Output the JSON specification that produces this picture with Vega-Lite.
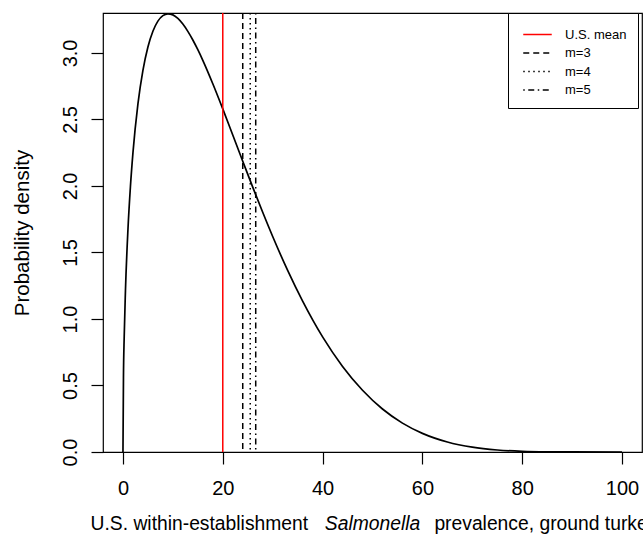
{
  "$schema": "https://vega.github.io/schema/vega-lite/v6.json",
  "width": 539,
  "height": 439,
  "autosize": {"type": "none"},
  "padding": {"left": 103, "top": 13, "right": 1, "bottom": 89},
  "background": "white",
  "config": {
    "font": "Liberation Sans",
    "view": {"stroke": "black", "strokeWidth": 1.2},
    "axis": {
      "grid": false, "domain": false,
      "tickColor": "black", "tickSize": 12, "tickWidth": 1.2,
      "labelColor": "black", "labelFontSize": 20, "labelFont": "Liberation Sans",
      "titleFont": "Liberation Sans", "titleFontSize": 20.5, "titleColor": "black", "titleFontWeight": "normal"
    }
  },
  "datasets": {
    "curve": [
      {"x": 0, "d": 0},
      {"x": 0.1, "d": 0.554},
      {"x": 0.25, "d": 0.869},
      {"x": 0.5, "d": 1.213},
      {"x": 1, "d": 1.673},
      {"x": 1.5, "d": 1.998},
      {"x": 2, "d": 2.249},
      {"x": 3, "d": 2.617},
      {"x": 4, "d": 2.869},
      {"x": 5, "d": 3.045},
      {"x": 6, "d": 3.163},
      {"x": 7, "d": 3.239},
      {"x": 8, "d": 3.280},
      {"x": 9, "d": 3.294},
      {"x": 10, "d": 3.286},
      {"x": 11, "d": 3.259},
      {"x": 12, "d": 3.217},
      {"x": 13, "d": 3.162},
      {"x": 14, "d": 3.097},
      {"x": 15, "d": 3.024},
      {"x": 16, "d": 2.944},
      {"x": 18, "d": 2.768},
      {"x": 20, "d": 2.579},
      {"x": 22, "d": 2.383},
      {"x": 24, "d": 2.186},
      {"x": 26, "d": 1.991},
      {"x": 28, "d": 1.802},
      {"x": 30, "d": 1.620},
      {"x": 33, "d": 1.365},
      {"x": 36, "d": 1.134},
      {"x": 40, "d": 0.865},
      {"x": 44, "d": 0.643},
      {"x": 48, "d": 0.464},
      {"x": 52, "d": 0.323},
      {"x": 56, "d": 0.217},
      {"x": 60, "d": 0.140},
      {"x": 65, "d": 0.075},
      {"x": 70, "d": 0.036},
      {"x": 75, "d": 0.015},
      {"x": 80, "d": 0.005},
      {"x": 85, "d": 0.0012},
      {"x": 90, "d": 0.0002},
      {"x": 100, "d": 0}
    ],
    "lines": [
      {"series": "U.S. mean", "x": 20},
      {"series": "m=3", "x": 24.0},
      {"series": "m=4", "x": 25.5},
      {"series": "m=5", "x": 26.6}
    ]
  },
  "layer": [
    {
      "data": {"name": "curve"},
      "mark": {"type": "line", "color": "black", "strokeWidth": 1.7, "interpolate": "monotone"},
      "encoding": {
        "x": {
          "field": "x", "type": "quantitative",
          "scale": {"domain": [-4, 104], "nice": false, "zero": false},
          "axis": {"title": null, "values": [0, 20, 40, 60, 80, 100], "labelPadding": 14}
        },
        "y": {
          "field": "d", "type": "quantitative",
          "scale": {"domain": [0, 3.3], "nice": false},
          "axis": {
            "title": "Probability density",
            "values": [0, 0.5, 1, 1.5, 2, 2.5, 3], "format": ".1f",
            "labelAngle": 270, "labelAlign": "center", "labelBaseline": "bottom",
            "labelPadding": 11, "titlePadding": 28
          }
        }
      }
    },
    {
      "data": {"name": "lines"},
      "mark": {"type": "rule", "strokeWidth": 1.5},
      "encoding": {
        "x": {"field": "x", "type": "quantitative"},
        "color": {
          "field": "series", "type": "nominal", "title": null,
          "scale": {"domain": ["U.S. mean", "m=3", "m=4", "m=5"], "range": ["#ff0000", "black", "black", "black"]},
          "legend": {
            "orient": "none", "legendX": 405, "legendY": 0, "padding": 11,
            "strokeColor": "black", "fillColor": "white",
            "symbolType": "M-1.5,0H1.5", "symbolSize": 361, "symbolStrokeWidth": 1.5,
            "symbolOffset": 8, "labelOffset": 17, "labelFontSize": 13, "labelColor": "black",
            "rowPadding": 0.5,
            "labelExpr": "datum.label + '\u00a0\u00a0\u00a0\u00a0'"
          }
        },
        "strokeDash": {
          "field": "series", "type": "nominal", "title": null,
          "scale": {"domain": ["U.S. mean", "m=3", "m=4", "m=5"], "range": [[1, 0], [6, 4], [1.5, 3.5], [1.5, 3.5, 6, 3.5]]},
          "legend": {
            "orient": "none", "legendX": 405, "legendY": 0, "padding": 11,
            "strokeColor": "black", "fillColor": "white",
            "symbolType": "M-1.5,0H1.5", "symbolSize": 361, "symbolStrokeWidth": 1.5,
            "symbolOffset": 8, "labelOffset": 17, "labelFontSize": 13, "labelColor": "black",
            "rowPadding": 0.5,
            "labelExpr": "datum.label + '\u00a0\u00a0\u00a0\u00a0'"
          }
        }
      }
    },
    {
      "data": {"values": [{}]},
      "mark": {"type": "text", "text": "U.S. within-establishment", "align": "right", "baseline": "alphabetic", "fontSize": 19.3, "color": "black"},
      "encoding": {"x": {"datum": 37.1, "type": "quantitative"}, "y": {"datum": -0.586, "type": "quantitative"}}
    },
    {
      "data": {"values": [{}]},
      "mark": {"type": "text", "text": "Salmonella", "align": "center", "baseline": "alphabetic", "fontSize": 19.3, "fontStyle": "italic", "color": "black"},
      "encoding": {"x": {"datum": 50, "type": "quantitative"}, "y": {"datum": -0.586, "type": "quantitative"}}
    },
    {
      "data": {"values": [{}]},
      "mark": {"type": "text", "text": "prevalence, ground turkey", "align": "left", "baseline": "alphabetic", "fontSize": 19.3, "color": "black"},
      "encoding": {"x": {"datum": 62.4, "type": "quantitative"}, "y": {"datum": -0.586, "type": "quantitative"}}
    }
  ]
}
